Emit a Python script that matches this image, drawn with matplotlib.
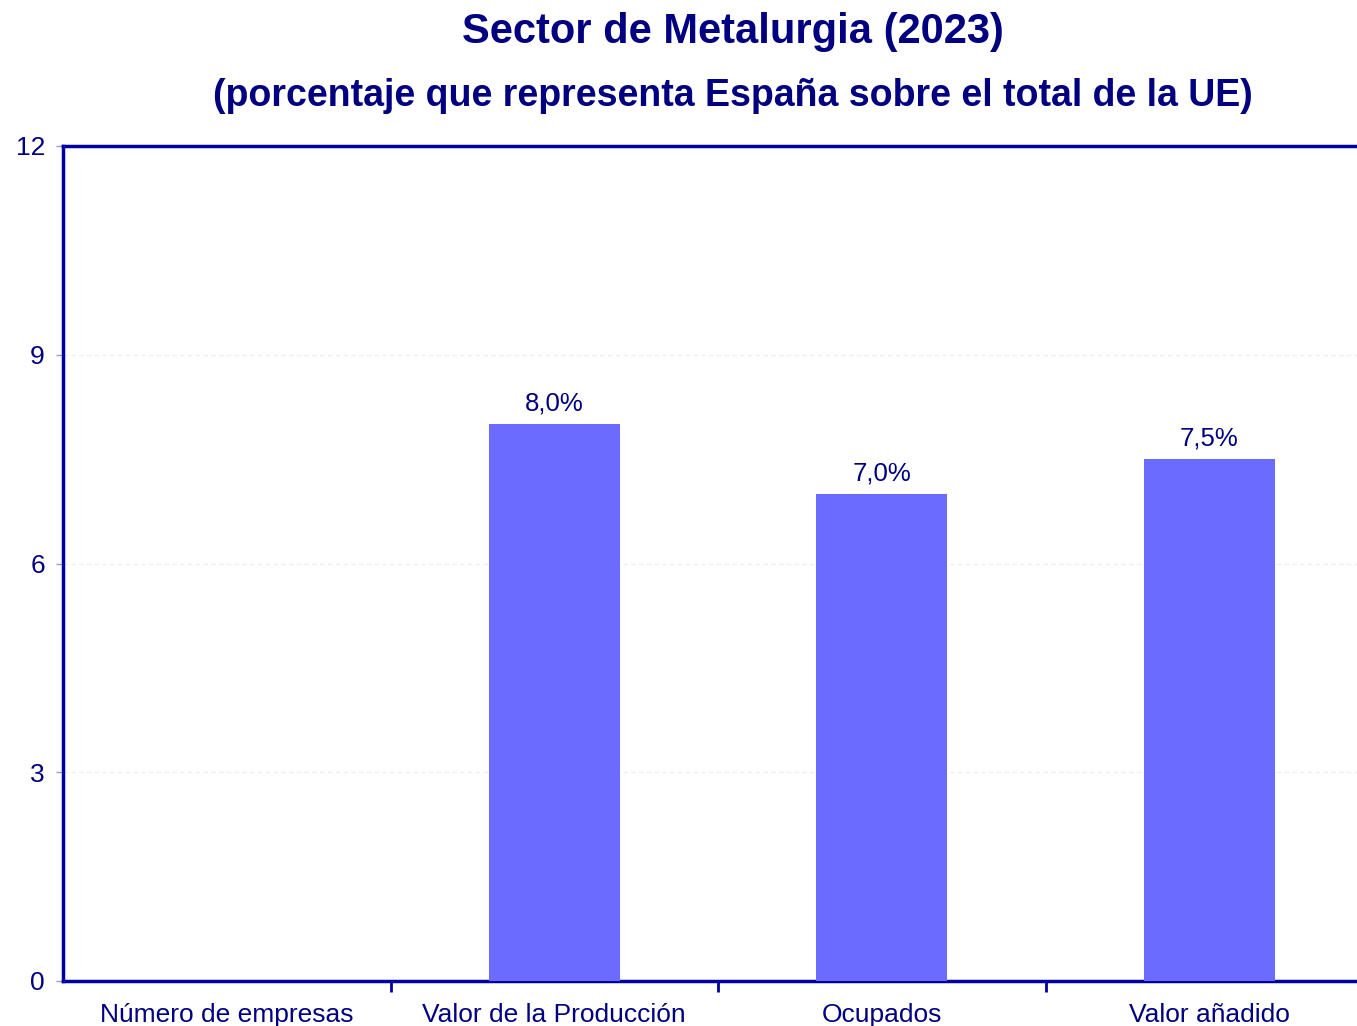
import numpy as np
import matplotlib.pyplot as plt

plt.rcParams['font.family'] = ['Liberation Sans', 'DejaVu Sans']

categorias = ["Número de empresas", "Valor de la Producción", "Ocupados", "Valor añadido"]
porcentajes = [np.nan, 8.0, 7.0, 7.5]  # sin dato para número de empresas
yticks = [0, 3, 6, 9, 12]

azul_texto = '#000080'
azul_eje = '#0000a0'
color_barra = '#6b6bff'

fig = plt.figure(figsize=(13.57, 10.26), dpi=100)
# el eje se sale por la derecha de la figura
ax = fig.add_axes([63 / 1357, 45 / 1026, 1310 / 1357, 835 / 1026])

x = np.arange(len(categorias))
vals = np.array(porcentajes)
ok = ~np.isnan(vals)
ax.bar(x[ok], vals[ok], width=0.4, color=color_barra, zorder=3)

for xi, v in zip(x[ok], vals[ok]):
    ax.annotate(f"{v:.1f}%".replace('.', ','), (xi, v), xytext=(0, 6),
                textcoords='offset points', ha='center', va='bottom',
                fontsize=18.5, color=azul_texto)

ax.set_xlim(-0.5, len(categorias) - 0.5)
ax.set_ylim(0, 12)
ax.set_yticks(yticks)
ax.set_yticklabels([str(t) for t in yticks], fontsize=19, color=azul_texto)
ax.tick_params(axis='y', length=5, width=1, color='#9999cc', pad=8)

ax.set_xticks(x)
ax.set_xticklabels(categorias, fontsize=19, color=azul_texto)
ax.tick_params(axis='x', length=0, pad=16)
ax.set_xticks(np.arange(0.5, len(categorias) - 0.5), minor=True)
ax.tick_params(axis='x', which='minor', length=8, width=2, color=azul_eje)

for y in yticks[1:-1]:
    ax.axhline(y, color='#ececec', lw=0.8, ls=(0, (4, 3)), zorder=1)

for lado in ['left', 'bottom', 'top']:
    ax.spines[lado].set_color(azul_eje)
    ax.spines[lado].set_linewidth(2.5)
ax.spines['right'].set_visible(False)

fig.text(0.54, 0.969, "Sector de Metalurgia (2023)", ha='center', va='center',
         fontsize=30, fontweight='bold', color=azul_texto)
fig.text(0.54, 0.906, "(porcentaje que representa España sobre el total de la UE)",
         ha='center', va='center', fontsize=27, fontweight='bold', color=azul_texto)

fig.savefig('out.png', dpi=100)
